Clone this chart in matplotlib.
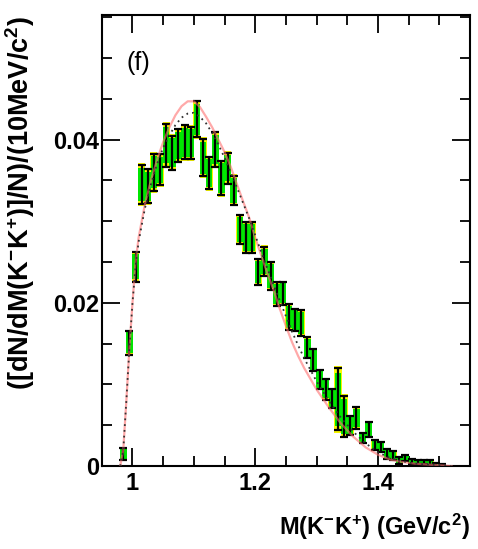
import numpy as np
import matplotlib
matplotlib.use("Agg")
import matplotlib.pyplot as plt

plt.rcParams['font.family'] = ['Liberation Sans', 'DejaVu Sans']
plt.rcParams['font.weight'] = 'bold'
plt.rcParams['mathtext.fontset'] = 'custom'
plt.rcParams['mathtext.rm'] = 'Liberation Sans:bold'
plt.rcParams['mathtext.default'] = 'rm'

# data: bin centres (GeV/c^2), normalised yield, stat. error
mass = [0.985, 0.995, 1.005, 1.015, 1.025, 1.035, 1.045, 1.055, 1.065, 1.075,
        1.085, 1.095, 1.105, 1.115, 1.125, 1.135, 1.145, 1.155, 1.165, 1.175,
        1.185, 1.195, 1.205, 1.215, 1.225, 1.235, 1.245, 1.255, 1.265, 1.275,
        1.285, 1.295, 1.305, 1.315, 1.325, 1.335, 1.345, 1.355, 1.365, 1.375,
        1.385, 1.395, 1.405, 1.415, 1.425, 1.435, 1.445, 1.455, 1.465, 1.475,
        1.485, 1.495, 1.505]
yield_ = [0.0015, 0.0151, 0.0244, 0.0345, 0.0343, 0.0360, 0.0363, 0.0393, 0.0384, 0.0393,
          0.0397, 0.0396, 0.0425, 0.0378, 0.0359, 0.0388, 0.0353, 0.0365, 0.0338, 0.0290,
          0.0280, 0.0280, 0.0238, 0.0251, 0.0233, 0.0211, 0.0212, 0.0183, 0.0179, 0.0175,
          0.0145, 0.0130, 0.0106, 0.0094, 0.0083, 0.0082, 0.0061, 0.0050, 0.0059, 0.0034,
          0.0045, 0.0026, 0.0023, 0.0015, 0.0013, 0.0007, 0.0010, 0.0006, 0.0005, 0.0005,
          0.0004, 0.0002, 0.0001]
stat_err = [0.0007, 0.0015, 0.0018, 0.0024, 0.0021, 0.0023, 0.0019, 0.0026, 0.0021, 0.0020,
            0.0021, 0.0020, 0.0022, 0.0023, 0.0020, 0.0021, 0.0021, 0.0019, 0.0018, 0.0018,
            0.0019, 0.0019, 0.0016, 0.0018, 0.0017, 0.0015, 0.0014, 0.0016, 0.0014, 0.0016,
            0.0013, 0.0014, 0.0012, 0.0013, 0.0012, 0.0038, 0.0025, 0.0012, 0.0013, 0.0006,
            0.0009, 0.0006, 0.0006, 0.0006, 0.0006, 0.0004, 0.0004, 0.0003, 0.0003, 0.0003,
            0.0003, 0.0002, 0.0001]

# model curves
curve_x = [0.980, 0.985, 0.990, 0.995, 1.000, 1.005, 1.010, 1.020, 1.030, 1.040,
           1.050, 1.060, 1.070, 1.080, 1.090, 1.100, 1.110, 1.120, 1.130, 1.140,
           1.150, 1.160, 1.170, 1.180, 1.190, 1.200, 1.210, 1.220, 1.230, 1.240,
           1.250, 1.260, 1.270, 1.280, 1.300, 1.320, 1.340, 1.360, 1.380, 1.400,
           1.420, 1.440, 1.460, 1.480, 1.500, 1.520]
red_y = [0.0, 0.0020, 0.0080, 0.0145, 0.0200, 0.0250, 0.0280, 0.0320, 0.0350, 0.0375,
         0.0397, 0.0415, 0.0430, 0.0441, 0.0447, 0.0447, 0.0440, 0.0428, 0.0415, 0.0400,
         0.0385, 0.0367, 0.0346, 0.0325, 0.0305, 0.0280, 0.0258, 0.0236, 0.0216, 0.0193,
         0.0172, 0.0152, 0.0135, 0.0120, 0.0094, 0.0072, 0.0052, 0.0036, 0.0023, 0.0014,
         0.0008, 0.0005, 0.0003, 0.0002, 0.0001, 0.0]
dot_y = [0.0, 0.0020, 0.0080, 0.0145, 0.0200, 0.0245, 0.0275, 0.0315, 0.0345, 0.0370,
         0.0390, 0.0405, 0.0418, 0.0427, 0.0432, 0.0433, 0.0428, 0.0420, 0.0408, 0.0394,
         0.0378, 0.0360, 0.0342, 0.0323, 0.0304, 0.0283, 0.0262, 0.0242, 0.0222, 0.0203,
         0.0184, 0.0165, 0.0148, 0.0132, 0.0104, 0.0080, 0.0059, 0.0042, 0.0028, 0.0017,
         0.0010, 0.0006, 0.0003, 0.0002, 0.0001, 0.0]

mass = np.array(mass)
yv = np.array(yield_)
err = np.array(stat_err)

fig = plt.figure(figsize=(4.78, 5.49), dpi=100)
ax = fig.add_axes([0.213, 0.151, 0.770, 0.822])

# systematic boxes: yellow (total) under green
yel = err * 1.08
grn = err * 0.85
ax.bar(mass, 2 * yel, bottom=yv - yel, width=0.0115, color='#f8f800', zorder=2)
ax.bar(mass, 2 * grn, bottom=yv - grn, width=0.0105, color='#00e600', zorder=3)
ax.errorbar(mass, yv, yerr=err, fmt='none', ecolor='black', elinewidth=1.6,
            capsize=2.8, capthick=1.6, zorder=4)

ax.plot(curve_x, red_y, color='#ff7070', lw=1.6, alpha=0.6, zorder=5)
ax.plot(curve_x, dot_y, color='#333333', lw=1.3, ls=(0, (1, 2.2)), zorder=5)

ax.set_xlim(0.959, 1.543)
ax.set_ylim(0, 0.0553)
ax.set_xticks([1.0, 1.2, 1.4])
ax.set_xticklabels(['1', '1.2', '1.4'])
ax.set_xticks(np.arange(0.95, 1.55, 0.05), minor=True)
ax.set_yticks([0, 0.02, 0.04])
ax.set_yticklabels(['0', '0.02', '0.04'])
ax.set_yticks(np.arange(0, 0.0551, 0.005), minor=True)
ax.tick_params(which='both', direction='in', top=True, right=True, width=1.3,
               labelsize=17)
ax.tick_params(which='major', length=13)
ax.tick_params(which='minor', length=7)
ax.tick_params(axis='y', pad=2)
ax.tick_params(axis='x', pad=4)
for s in ax.spines.values():
    s.set_linewidth(1.5)

ax.text(0.098, 0.894, '(f)', transform=ax.transAxes, ha='center', va='center',
        fontsize=18, fontweight='normal')
fig.text(20 / 478, 1 - 16 / 549, r'([dN/dM(K$^{-}$K$^{+}$)]/N)/(10MeV/c$^{2}$)',
         rotation=90, ha='center', va='top', fontsize=19.5)
fig.text(470 / 478, 1 - 527 / 549, r'M(K$^{-}$K$^{+}$) (GeV/c$^{2}$)',
         ha='right', va='center', fontsize=17)

fig.savefig('out.png', dpi=100)
